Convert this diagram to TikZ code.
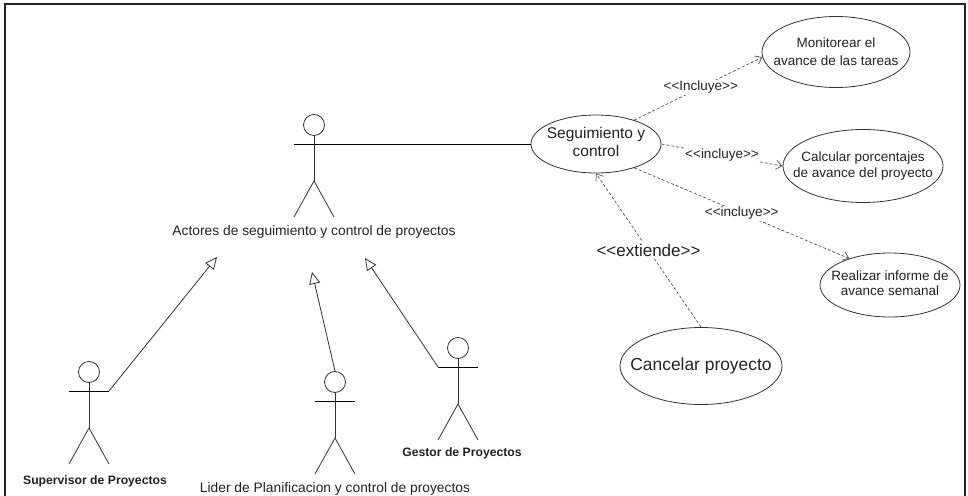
\documentclass[tikz,border=0pt]{standalone}
\usepackage{fontspec}
\setmainfont{Liberation Sans}
\newfontfamily\plainlab{Liberation Sans}
\usetikzlibrary{shapes.geometric,arrows.meta}
\definecolor{ink}{HTML}{222222}
\definecolor{lineg}{HTML}{333333}
\definecolor{dashg}{HTML}{555555}
\tikzset{
  txt/.style={text=ink, inner sep=0pt},
  uc/.style={draw=lineg, line width=0.8pt, ellipse, inner sep=0pt},
  dep/.style={draw=dashg, line width=0.7pt, dash pattern=on 3pt off 2pt,
    -{Straight Barb[length=6pt,width=9pt]}},
  deplbl/.style={txt, fill=white, inner sep=1pt, font=\plainlab\fontsize{13.5}{16}\selectfont},
  gen/.style={draw=lineg, line width=0.8pt, -{Triangle[open,length=12pt,width=11pt]}},
  actor/.pic={
    \node[circle, draw=lineg, line width=0.8pt, minimum size=21pt, inner sep=0pt] (-head) at (0,0) {};
    \draw[lineg, line width=0.8pt] (-head.south) -- (0,56) coordinate (-hip);
    \draw[black, line width=0.9pt] (-20,19) coordinate (-larm) -- (20,19) coordinate (-rarm);
    \draw[lineg, line width=0.8pt] (-20,92) coordinate (-lfoot) -- (-hip) -- (20,92) coordinate (-rfoot);
  }
}
\begin{document}
\begin{tikzpicture}[x=1pt, y=-1pt]
\useasboundingbox (0,0) rectangle (968,495);
% frame
\draw[line width=1.2pt, draw=ink] (5,500) -- (5,4) -- (965,4) -- (965,500);

% actors
\pic (main) at (314,125) {actor};
\pic (sup) at (89,372) {actor};
\pic (lid) at (335,382) {actor};
\pic (ges) at (458,348) {actor};

\node[txt, font=\fontsize{13.8}{16}\selectfont] (mainlbl) at (314,232) {Actores de seguimiento y control de proyectos};
\node[txt, font=\bfseries\fontsize{12.2}{14}\selectfont, anchor=base] (suplbl) at (95,484) {Supervisor de Proyectos};
\node[txt, font=\fontsize{13.8}{16}\selectfont, anchor=base] (lidlbl) at (335,492) {Lider de Planificacion y control de proyectos};
\node[txt, font=\bfseries\fontsize{12.2}{14}\selectfont, anchor=base] (geslbl) at (462,456) {Gestor de Proyectos};

% use cases
\node[uc, minimum width=130pt, minimum height=58pt] (seg) at (596,144) {};
\node[txt, align=center, font=\fontsize{15.5}{18}\selectfont] (segt) at (596,142) {Seguimiento y\\control};
\node[uc, minimum width=148pt, minimum height=71pt] (mon) at (836,52) {};
\node[txt, align=center, font=\fontsize{13.5}{18}\selectfont] (mont) at (836,52) {Monitorear el\\avance de las tareas};
\node[uc, minimum width=160pt, minimum height=73pt] (cal) at (863,166) {};
\node[txt, align=center, font=\fontsize{13.5}{15.5}\selectfont] (calt) at (863,166) {Calcular porcentajes\\de avance del proyecto};
\node[uc, minimum width=140pt, minimum height=64pt] (rea) at (890,285) {};
\node[txt, align=center, font=\fontsize{13.5}{15.5}\selectfont] (reat) at (890,283) {Realizar informe de\\avance semanal};
\node[uc, minimum width=162pt, minimum height=77pt] (can) at (701,366) {};
\node[txt, font=\fontsize{17.4}{20}\selectfont] (cant) at (701,366) {Cancelar proyecto};

% association
\draw[black, line width=0.9pt] (main-rarm) -- (seg.west |- main-rarm);

% generalizations
\coordinate (g1) at (217,257);
\coordinate (g2) at (312,272);
\coordinate (g3) at (365,258);
\draw[gen] (sup-rarm) -- (g1);
\draw[gen] (lid-head.north) -- (g2);
\draw[gen] (ges-larm) -- (g3);

% dependencies
\draw[dep] (seg.32) -- node[deplbl, pos=0.52] (l1) {<<Incluye>>} (mon.184);
\draw[dep] (seg.east) -- node[deplbl, pos=0.5] (l2) {<<incluye>>} (cal.west);
\draw[dep] (seg.-32) -- node[deplbl, pos=0.5] (l3) {<<incluye>>} (rea.147);
\draw[dep] (can.north) -- node[txt, fill=white, inner sep=2pt, pos=0.5, font=\plainlab\fontsize{17}{20}\selectfont] (l4) {<<extiende>>} (seg.south);
\end{tikzpicture}
\end{document}
